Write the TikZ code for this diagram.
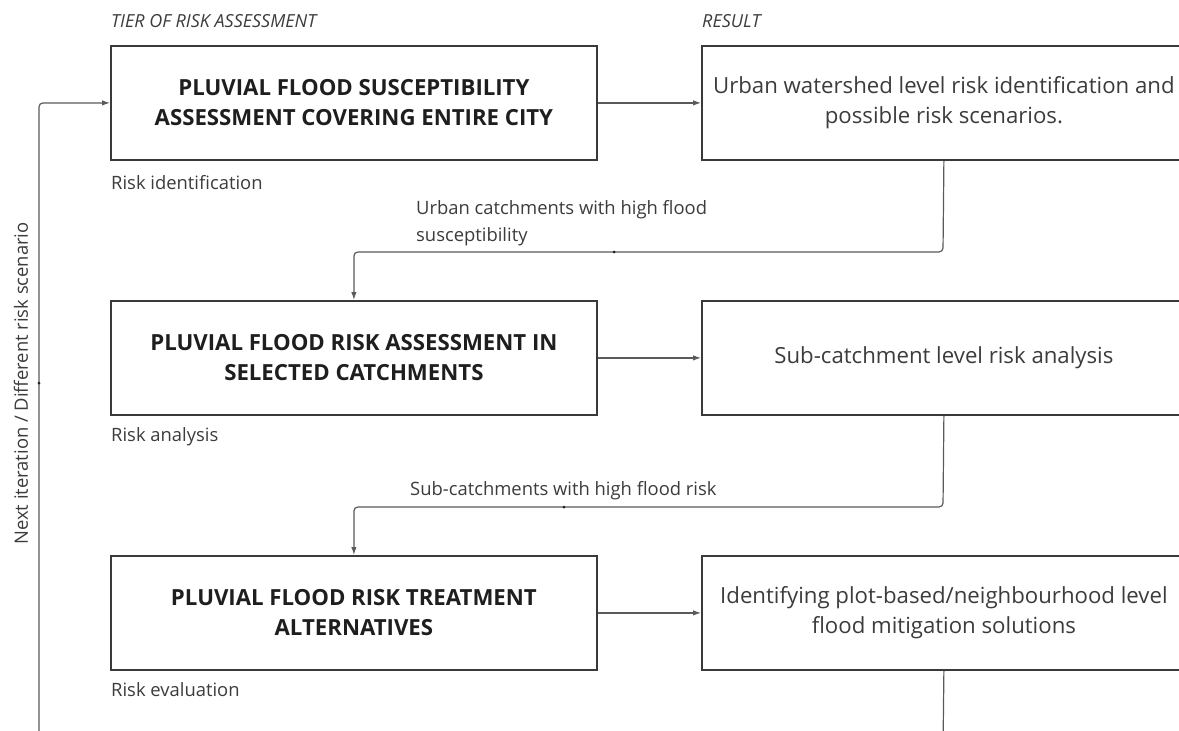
\documentclass[tikz,border=0pt]{standalone}
\usepackage{fontspec}
\setmainfont{Open Sans}
\usetikzlibrary{arrows.meta}
\definecolor{boxline}{HTML}{3A3A3A}
\definecolor{linegray}{HTML}{5A5A5A}
\definecolor{textdark}{HTML}{1E1E1E}
\definecolor{textmid}{HTML}{3C3C3C}
\begin{document}
\begin{tikzpicture}[x=1pt,y=-1pt,
  tierbox/.style={draw=boxline, line width=1.8pt, minimum width=486pt, minimum height=114pt,
    inner sep=0pt, align=center, anchor=north west, text=textdark,
    font=\fontsize{22.2}{30}\selectfont\bfseries},
  resbox/.style={draw=boxline, line width=1.8pt, minimum width=484pt, minimum height=114pt,
    inner sep=0pt, align=center, anchor=north west, text=textmid,
    font=\fontsize{22.2}{30}\selectfont},
  header/.style={anchor=base west, inner sep=0pt, text=textmid, font=\fontsize{18}{21}\selectfont\itshape},
  smalllabel/.style={anchor=base west, inner sep=0pt, text=textmid, font=\fontsize{18.4}{27}\selectfont},
  conn/.style={draw=linegray, line width=1.2pt, rounded corners=4pt, -{Latex[length=8pt,width=5.5pt]}},
  waypoint/.style={fill=textdark, circle, inner sep=0pt, minimum size=3pt},
]
\useasboundingbox (0,0) rectangle (1179,731);
\fill[white] (0,0) rectangle (1179,731);
\clip (0,0) rectangle (1179,731);

% headers
\node[header] (h1) at (111,27.3) {TIER OF RISK ASSESSMENT};
\node[header] (h2) at (702,27.3) {RESULT};

% tier boxes
\node[tierbox] (b1) at (110,45) {PLUVIAL FLOOD SUSCEPTIBILITY\\ASSESSMENT COVERING ENTIRE CITY};
\node[tierbox] (b2) at (110,300) {PLUVIAL FLOOD RISK ASSESSMENT IN\\SELECTED CATCHMENTS};
\node[tierbox] (b3) at (110,555) {PLUVIAL FLOOD RISK TREATMENT\\ALTERNATIVES};

% result boxes
\node[resbox] (r1) at (701,45) {Urban watershed level risk identification and\\possible risk scenarios.};
\node[resbox] (r2) at (701,300) {Sub-catchment level risk analysis};
\node[resbox] (r3) at (701,555) {Identifying plot-based/neighbourhood level\\flood mitigation solutions};

% tier labels
\node[smalllabel] (l1) at (111,189) {Risk identification};
\node[smalllabel] (l2) at (111,441.5) {Risk analysis};
\node[smalllabel] (l3) at (111,696.5) {Risk evaluation};

% horizontal arrows
\draw[conn] (b1.east) -- (r1.west);
\draw[conn] (b2.east) -- (r2.west);
\draw[conn] (b3.east) -- (r3.west);

% downward connectors
\coordinate (c1) at (943,252);
\coordinate (c2) at (943,507);
\draw[conn] (r1.south) -- (c1) -| (b2.north);
\draw[conn] (r2.south) -- (c2) -| (b3.north);
\node[waypoint] (d1) at (614,252) {};
\node[waypoint] (d2) at (564,507) {};
\node[smalllabel, anchor=north west, align=left] (e1) at (416,200) {Urban catchments with high flood\\susceptibility};
\node[smalllabel] (e2) at (410,495) {Sub-catchments with high flood risk};

% loop back
\coordinate (lb1) at (943,750);
\coordinate (lb2) at (39,750);
\draw[conn] (r3.south) -- (lb1) -- (lb2) |- (b1.west);
\node[waypoint] (d3) at (39,383) {};
\node[smalllabel, anchor=center, rotate=90] (v) at (21,383.5) {Next iteration / Different risk scenario};
\end{tikzpicture}
\end{document}
